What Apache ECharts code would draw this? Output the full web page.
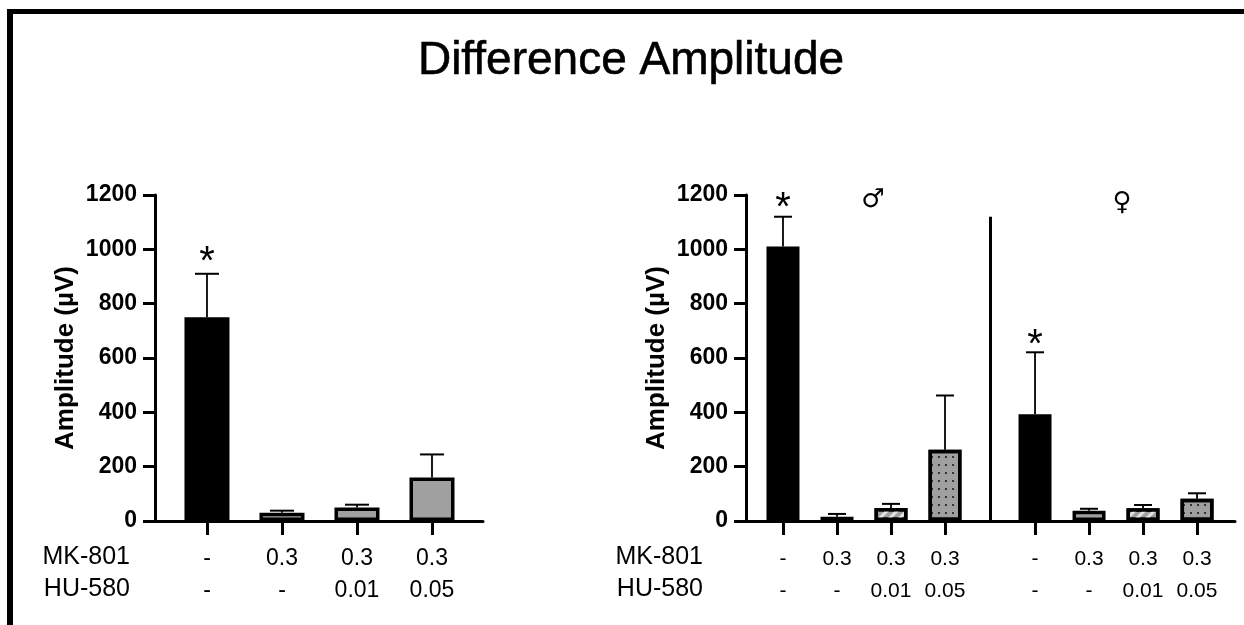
<!DOCTYPE html>
<html>
<head>
<meta charset="utf-8">
<script src="https://cdn.jsdelivr.net/npm/echarts@6/dist/echarts.min.js"></script>
<style>
html,body{margin:0;padding:0;background:#fff;}
#chart{width:1244px;height:625px;}
</style>
</head>
<body>
<div id="chart"></div>
<script>
// ---------- DATA ----------
const chartTitle = 'Difference Amplitude';
const yAxisName = 'Amplitude (µV)';
const rowNames = ['MK-801', 'HU-580'];
const mkLabels = ['-', '0.3', '0.3', '0.3'];
const huLabels = ['-', '-', '0.01', '0.05'];
const yMin = 0, yMax = 1200, yStep = 200;

// pooled (left panel)
const pooledMean = [750, 30, 50, 160];
const pooledErr  = [160, 8, 10, 85];
const pooledSig  = [1, 0, 0, 0];
const pooledFill = ['solid', 'gray', 'gray', 'gray'];

// male (right panel, left half)
const maleMean = [1010, 16, 48, 262];
const maleErr  = [110, 10, 15, 200];
const maleSig  = [1, 0, 0, 0];

// female (right panel, right half)
const femaleMean = [393, 38, 47, 82];
const femaleErr  = [228, 7, 12, 20];
const femaleSig  = [1, 0, 0, 0];

const sexFill = ['solid', 'gray', 'hatch', 'dots'];
const sexSymbols = ['♂', '♀'];

// ---------- STYLE / LAYOUT ----------
const FONT = '"Liberation Sans", Arial, sans-serif';
const GRAY = '#a0a0a0';
function fillStyle(kind) {
  if (kind === 'solid') return { color: '#000' };
  if (kind === 'gray') return { color: GRAY };
  if (kind === 'hatch') return { color: GRAY, decal: { symbol: 'rect', symbolSize: 1, dashArrayX: [1, 0], dashArrayY: [3, 4], rotation: -Math.PI / 4, color: '#e4e4e4' } };
  if (kind === 'dots') return { color: GRAY, decal: { symbol: 'rect', symbolSize: 1, dashArrayX: [[2, 5]], dashArrayY: [2, 6], rotation: 0, color: '#333' } };
}

const femaleOffset = 4.667;   // slot offset of female group on right axis
const dividerX = 3.833;
const dividerTop = 1120;

const leftPos = mkLabels.map((_, i) => i);
const malePos = mkLabels.map((_, i) => i);
const femalePos = mkLabels.map((_, i) => i + femaleOffset);
const rightPos = malePos.concat(femalePos);
const rightMk = mkLabels.concat(mkLabels);
const rightHu = huLabels.concat(huLabels);

function barData(pos, means, fills) {
  return means.map((m, i) => ({
    value: [pos[i], m],
    itemStyle: Object.assign({ borderColor: '#000', borderWidth: 3.5 }, fillStyle(fills[i]))
  }));
}
function errData(pos, means, errs, sig) {
  return means.map((m, i) => [pos[i], m, errs[i], sig[i]]);
}
function errSeries(idx, data, capHalf, starGap) {
  return {
    type: 'custom', xAxisIndex: idx, yAxisIndex: idx, z: 5,
    encode: { x: 0, y: 1 },
    data: data,
    renderItem: function (params, api) {
      const x = api.value(0), m = api.value(1), e = api.value(2), s = api.value(3);
      const p0 = api.coord([x, m]);
      const p1 = api.coord([x, m + e]);
      const children = [
        { type: 'line', shape: { x1: p0[0], y1: p0[1], x2: p1[0], y2: p1[1] }, style: { stroke: '#000', lineWidth: 1.8 } },
        { type: 'line', shape: { x1: p1[0] - capHalf, y1: p1[1], x2: p1[0] + capHalf, y2: p1[1] }, style: { stroke: '#000', lineWidth: 2 } }
      ];
      if (s) {
        children.push({ type: 'text', style: { text: '*', x: p1[0], y: p1[1] - starGap, textAlign: 'center', textVerticalAlign: 'middle', font: '40px ' + FONT, fill: '#000' } });
      }
      return { type: 'group', children: children };
    }
  };
}
function labelFormatter(pos, mk, hu) {
  return function (v) {
    const i = pos.findIndex(p => Math.abs(p - v) < 1e-3);
    if (i < 0) return '';
    return '{a|' + mk[i] + '}\n{b|' + hu[i] + '}';
  };
}
function yAxisCfg(idx) {
  return {
    type: 'value', gridIndex: idx, min: yMin, max: yMax, interval: yStep,
    name: yAxisName, nameLocation: 'middle', nameGap: 76,
    nameTextStyle: { fontFamily: FONT, fontWeight: 'bold', fontSize: 26, color: '#000' },
    axisLine: { show: true, onZero: false, lineStyle: { color: '#000', width: 3 } },
    axisTick: { show: true, length: 12, lineStyle: { color: '#000', width: 3 } },
    axisLabel: { margin: 18, fontFamily: FONT, fontWeight: 'bold', fontSize: 23, color: '#000', formatter: v => String(v) },
    splitLine: { show: false }
  };
}
function xAxisCfg(idx, min, max, pos, mk, hu, fs) {
  return {
    type: 'value', gridIndex: idx, min: min, max: max,
    axisLine: { show: true, onZero: false, lineStyle: { color: '#000', width: 3 } },
    axisTick: { show: true, customValues: pos, length: 14, lineStyle: { color: '#000', width: 3 } },
    axisLabel: {
      customValues: pos, margin: 22, formatter: labelFormatter(pos, mk, hu), showMinLabel: true, showMaxLabel: true,
      rich: {
        a: { fontFamily: FONT, fontSize: fs, color: '#000', lineHeight: 32, align: 'center' },
        b: { fontFamily: FONT, fontSize: fs, color: '#000', lineHeight: 32, align: 'center' }
      }
    },
    splitLine: { show: false }
  };
}

const rowTextStyle = (x, y, t) => ({ type: 'text', x: x, y: y, style: { text: t, font: '25px ' + FONT, fill: '#000', textAlign: 'right', textVerticalAlign: 'middle' } });

const option = {
  backgroundColor: '#fff',
  animation: false,
  grid: [
    { left: 155, top: 195, width: 328, height: 326, containLabel: false },
    { left: 746, top: 195, width: 489, height: 326, containLabel: false }
  ],
  xAxis: [
    xAxisCfg(0, -0.693, 3.68, leftPos, mkLabels, huLabels, 23),
    xAxisCfg(1, -0.685, 8.37, rightPos, rightMk, rightHu, 21)
  ],
  yAxis: [yAxisCfg(0), yAxisCfg(1)],
  series: [
    { type: 'bar', xAxisIndex: 0, yAxisIndex: 0, barWidth: 45, data: barData(leftPos, pooledMean, pooledFill) },
    errSeries(0, errData(leftPos, pooledMean, pooledErr, pooledSig), 12, 11),
    { type: 'bar', xAxisIndex: 1, yAxisIndex: 1, barWidth: 33, barGap: '-100%', data: barData(malePos, maleMean, sexFill),
      markLine: { symbol: 'none', silent: true, label: { show: false },
        lineStyle: { color: '#000', width: 3, type: 'solid' },
        data: [[{ coord: [dividerX, 0] }, { coord: [dividerX, dividerTop] }]] } },
    { type: 'bar', xAxisIndex: 1, yAxisIndex: 1, barWidth: 33, barGap: '-100%', data: barData(femalePos, femaleMean, sexFill) },
    errSeries(1, errData(malePos, maleMean, maleErr, maleSig), 9, 8),
    errSeries(1, errData(femalePos, femaleMean, femaleErr, femaleSig), 9, 6)
  ],
  graphic: [
    { type: 'rect', shape: { x: 7, y: 9, width: 1237, height: 5 }, style: { fill: '#000' } },
    { type: 'rect', shape: { x: 7, y: 9, width: 6, height: 616 }, style: { fill: '#000' } },
    { type: 'text', x: 631, y: 61, style: { text: chartTitle, font: '46px ' + FONT, fill: '#000', stroke: '#000', lineWidth: 0.6, textAlign: 'center', textVerticalAlign: 'middle' } },
    rowTextStyle(130, 557, rowNames[0]),
    rowTextStyle(130, 589, rowNames[1]),
    rowTextStyle(703, 557, rowNames[0]),
    rowTextStyle(703, 589, rowNames[1]),
    { type: 'text', x: 873, y: 200, style: { text: sexSymbols[0], font: '26px "DejaVu Sans"', fill: '#000', textAlign: 'center', textVerticalAlign: 'middle' } },
    { type: 'text', x: 1122, y: 203, style: { text: sexSymbols[1], font: '26px "DejaVu Sans"', fill: '#000', textAlign: 'center', textVerticalAlign: 'middle' } }
  ]
};

const chart = echarts.init(document.getElementById('chart'), null, { renderer: 'canvas' });
chart.setOption(option);
</script>
</body>
</html>
